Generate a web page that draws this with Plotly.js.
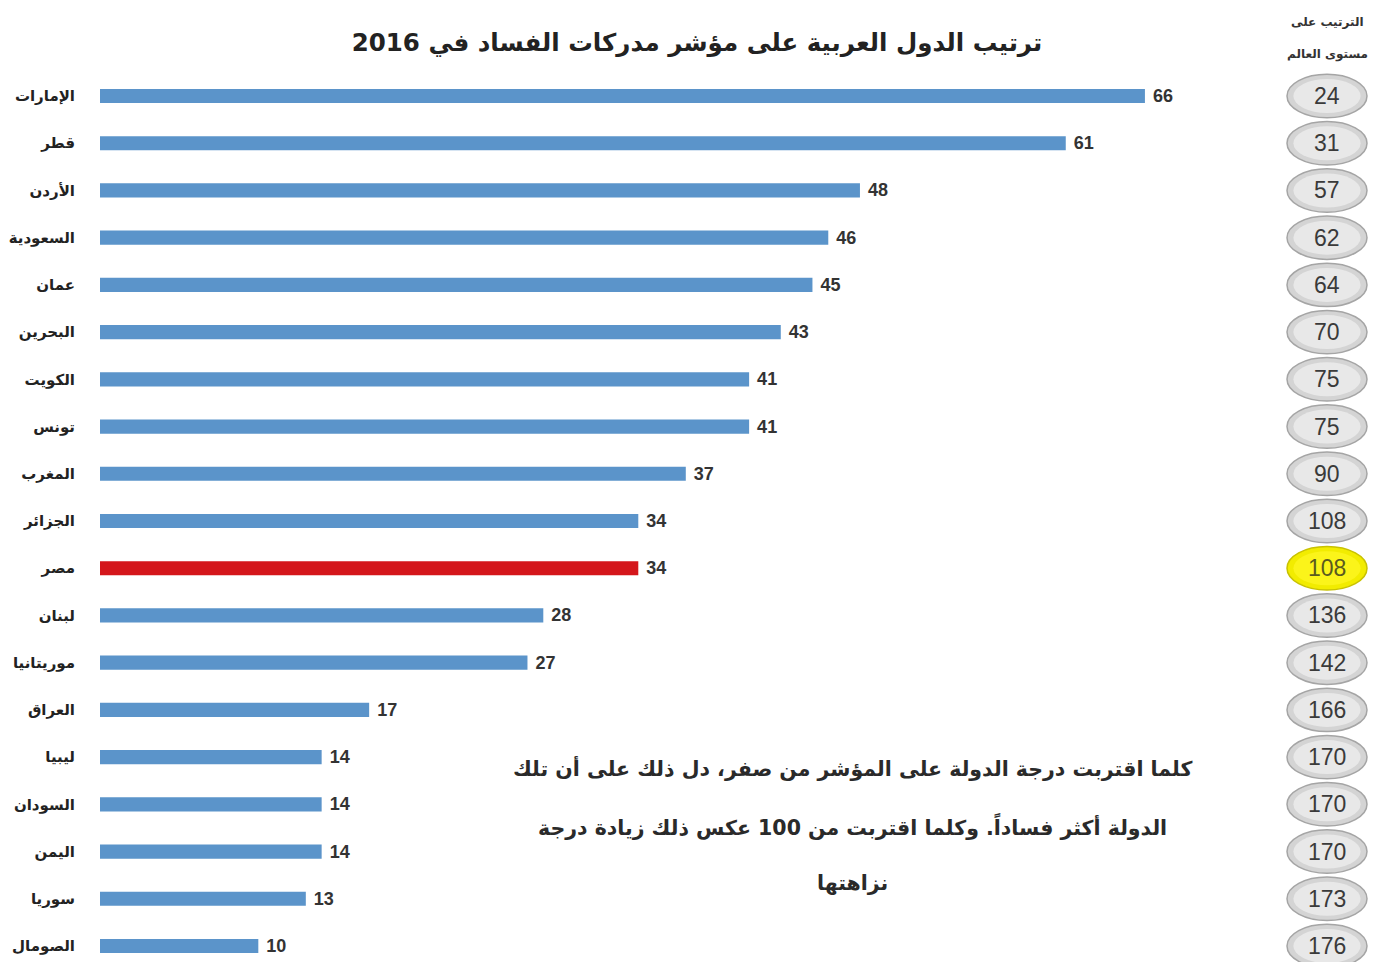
<!DOCTYPE html>
<html>
<head>
<meta charset="utf-8">
<script src="https://cdn.plot.ly/plotly-3.0.1.min.js"></script>
<style>html,body{margin:0;padding:0;background:#fff;}#chart{width:1378px;height:968px;}</style>
</head>
<body>
<div id="chart"></div>
<script>
var countries = ["الإمارات","قطر","الأردن","السعودية","عمان","البحرين","الكويت","تونس","المغرب","الجزائر","مصر","لبنان","موريتانيا","العراق","ليبيا","السودان","اليمن","سوريا","الصومال"];
var scores = [66,61,48,46,45,43,41,41,37,34,34,28,27,17,14,14,14,13,10];
var worldRanks = [24,31,57,62,64,70,75,75,90,108,108,136,142,166,170,170,170,173,176];
var highlightCountry = "مصر";
var titleText = "ترتيب الدول العربية على مؤشر مدركات الفساد في 2016";
var rankHeader = ["الترتيب على", "مستوى العالم"];
var noteLines = ["كلما اقتربت درجة الدولة على المؤشر من صفر، دل ذلك على أن تلك",
                 "الدولة أكثر فساداً. وكلما اقتربت من 100 عكس ذلك زيادة درجة",
                 "نزاهتها"];

var W = 1378, H = 968, ML = 100, MT = 72, MB = 6;
var PH = H - MT - MB;
function py(p){ return (H - MB - p) / PH; }      // pixel y -> paper y
function px(p){ return (p - ML) / (W - ML); }    // pixel x -> paper x

var hi = countries.indexOf(highlightCountry);
var barColors = countries.map(function(c, i){ return i === hi ? "#d4161b" : "#5b94ca"; });
var idx = countries.map(function(c, i){ return i; });

var trace = {
  type: "bar", orientation: "h",
  x: scores, y: idx,
  width: 0.3,
  marker: {color: barColors},
  texttemplate: " %{x}",
  textposition: "outside",
  constraintext: "none",
  cliponaxis: false,
  textfont: {family: "Liberation Sans", size: 18, color: "#333", weight: "bold"},
  hoverinfo: "none"
};

var ovalCx = px(1327);
var ovalHw = 40 / (W - ML);
var shapes = [], annotations = [];
worldRanks.forEach(function(r, i){
  var isHi = i === hi;
  shapes.push({type: "circle", xref: "paper", yref: "y", x0: ovalCx - ovalHw, x1: ovalCx + ovalHw,
    y0: i - 0.46, y1: i + 0.46, fillcolor: isHi ? "#f2ec00" : "#d4d4d4",
    line: {color: isHi ? "#c9c200" : "#a5a5a5", width: 1.5}, layer: "above"});
  shapes.push({type: "circle", xref: "paper", yref: "y", x0: ovalCx - ovalHw*0.84, x1: ovalCx + ovalHw*0.84,
    y0: i - 0.36, y1: i + 0.36, fillcolor: isHi ? "#fbf41a" : "#e8e8e8",
    line: {width: 0}, layer: "above"});
  annotations.push({xref: "paper", yref: "y", x: ovalCx, xanchor: "center", y: i, yanchor: "middle", text: String(r), showarrow: false,
    font: {family: "Liberation Sans", size: 23, color: isHi ? "#5a5a20" : "#3a3a3a"}});
});
annotations.push({xref: "paper", yref: "paper", x: ovalCx, xanchor: "center", y: py(22), yanchor: "middle", showarrow: false,
  text: rankHeader[0], font: {family: "DejaVu Sans", size: 12, color: "#333", weight: "bold"}});
annotations.push({xref: "paper", yref: "paper", x: ovalCx, xanchor: "center", y: py(55), yanchor: "middle", showarrow: false,
  text: rankHeader[1], font: {family: "DejaVu Sans", size: 12, color: "#333", weight: "bold"}});
var noteY = [768, 826, 883];
noteLines.forEach(function(t, k){
  annotations.push({xref: "paper", yref: "paper", x: px(853), xanchor: "center", y: py(noteY[k]), yanchor: "middle", showarrow: false,
    text: t, font: {family: "DejaVu Sans", size: 20.5, color: "#2a2a2a", weight: "bold"}});
});

var layout = {
  width: W, height: H,
  margin: {l: ML, r: 0, t: MT, b: MB},
  paper_bgcolor: "#fff", plot_bgcolor: "#fff",
  showlegend: false,
  title: {text: titleText, x: px(697), xref: "paper", xanchor: "center", y: (H - 42) / H, yanchor: "middle",
    font: {family: "DejaVu Sans", size: 24.5, color: "#222", weight: "bold"}},
  xaxis: {range: [0, 73.9], domain: [0, 1170 / (W - ML)], showgrid: false, zeroline: false, showticklabels: false, showline: false, ticks: ""},
  yaxis: {range: [18.339, -0.508], tickmode: "array", tickvals: idx, ticktext: countries,
    showgrid: false, zeroline: false, showline: false, ticks: "", ticklabelstandoff: 24,
    tickfont: {family: "DejaVu Sans", size: 15, color: "#222", weight: "bold"}},
  shapes: shapes,
  annotations: annotations
};

Plotly.newPlot("chart", [trace], layout, {displayModeBar: false, staticPlot: true});
</script>
</body>
</html>
